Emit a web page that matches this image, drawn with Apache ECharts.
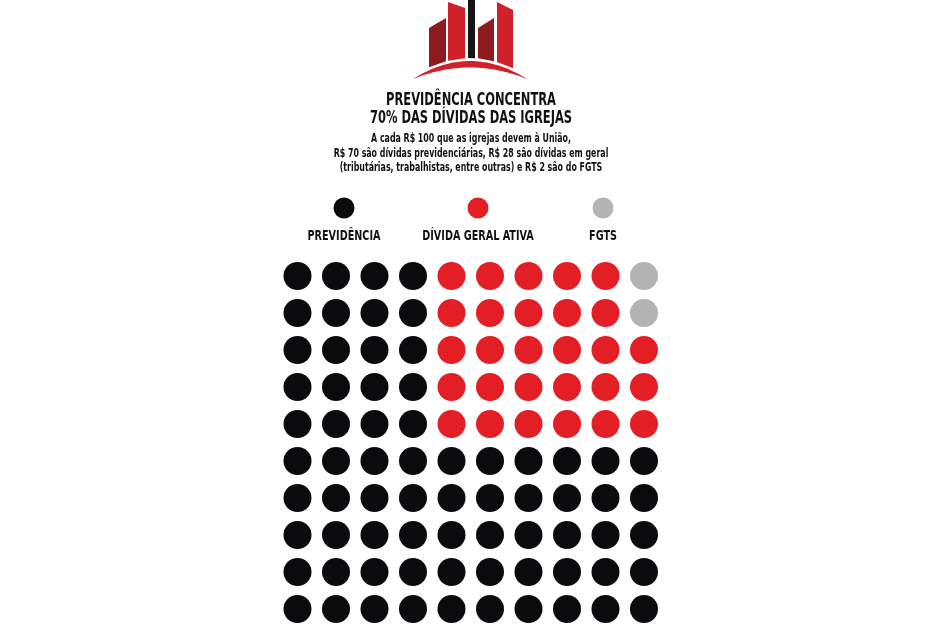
<!DOCTYPE html>
<html><head><meta charset="utf-8">
<script src="https://cdn.jsdelivr.net/npm/echarts@6/dist/echarts.min.js"></script>
<style>html,body{margin:0;padding:0;background:#fff}#c{width:944px;height:629px}</style>
</head><body><div id="c"></div>
<script>
// ---- data ----
var categories = ['PREVIDÊNCIA', 'DÍVIDA GERAL ATIVA', 'FGTS'];
var values = [70, 28, 2]; // R$ out of every R$ 100
var colors = ['#0b0b0d', '#e31e25', '#b3b3b3'];
// 10x10 grid, each char is the category index of that dot (row by row, top to bottom)
var gridRows = [
  '0000111112',
  '0000111112',
  '0000111111',
  '0000111111',
  '0000111111',
  '0000000000',
  '0000000000',
  '0000000000',
  '0000000000',
  '0000000000'
];
var titleLines = ['PREVIDÊNCIA CONCENTRA', '70% DAS DÍVIDAS DAS IGREJAS'];
var subtitleLines = [
  'A cada R$ 100 que as igrejas devem à União,',
  'R$ 70 são dívidas previdenciárias, R$ 28 são dívidas em geral',
  '(tributárias, trabalhistas, entre outras) e R$ 2 são do FGTS'
];

var FONT = "'DejaVu Sans Condensed', 'Liberation Sans Narrow', sans-serif";

// scatter data per category
var seriesData = categories.map(function () { return []; });
gridRows.forEach(function (row, r) {
  row.split('').forEach(function (ch, c) {
    seriesData[+ch].push([c, r]);
  });
});

// logo geometry (decoration)
function arcTop(x) { var t = (x - 413) / 114; return 79 - 72 * t * (1 - t); }
function arcBot(x) { var t = (x - 413) / 114; return 79 - 46 * t * (1 - t); }
function bld(x0, x1, yl, yr, color) {
  return { type: 'polygon', shape: { points: [[x0, yl], [x1, yr], [x1, arcTop(x1) - 3], [x0, arcTop(x0) - 3]] }, style: { fill: color } };
}
var arcPts = [];
for (var k = 0; k <= 40; k++) { var xx = 413 + 114 * k / 40; arcPts.push([xx, arcTop(xx)]); }
for (var k2 = 40; k2 >= 0; k2--) { var xx2 = 413 + 114 * k2 / 40; arcPts.push([xx2, arcBot(xx2)]); }
var graphics = [
  bld(429, 446, 28, 18, '#8e1b20'),
  bld(448, 465, 2, 8, '#d0202a'),
  bld(468, 475, 0, 0, '#161616'),
  bld(478, 494, 28, 18, '#8e1b20'),
  bld(497, 513, 2, 10, '#d0202a'),
  { type: 'polygon', shape: { points: arcPts }, style: { fill: '#d0202a' } }
];
function txt(t, x, y, size, sx) {
  return { type: 'text', x: x, y: y, scaleX: sx, style: { text: t, font: 'bold ' + size + 'px ' + FONT, fill: '#111', align: 'center', verticalAlign: 'middle' } };
}
titleLines.forEach(function (t, i) {
  graphics.push(txt(t, 471, 101 + i * 18, 17, 0.75));
});
subtitleLines.forEach(function (t, i) {
  graphics.push(txt(t, 471, 139 + i * 14.5, 12.5, 0.70));
});
var legendX = [344, 478, 603];
categories.forEach(function (name, i) {
  graphics.push({ type: 'circle', shape: { cx: legendX[i], cy: 208, r: 10.5 }, style: { fill: colors[i] } });
  graphics.push(txt(name, legendX[i], 236, 14.5, 0.74));
});

var chart = echarts.init(document.getElementById('c'), null, { renderer: 'canvas' });
chart.setOption({
  backgroundColor: '#fff',
  animation: false,
  grid: { left: 278.25, top: 257.5, width: 385, height: 370 },
  xAxis: { type: 'value', min: -0.5, max: 9.5, show: false },
  yAxis: { type: 'value', min: -0.5, max: 9.5, inverse: true, show: false },
  graphic: graphics,
  series: categories.map(function (name, i) {
    return { name: name, type: 'scatter', symbol: 'circle', symbolSize: 28, itemStyle: { color: colors[i], opacity: 1 }, data: seriesData[i], silent: true };
  })
});
</script></body></html>
